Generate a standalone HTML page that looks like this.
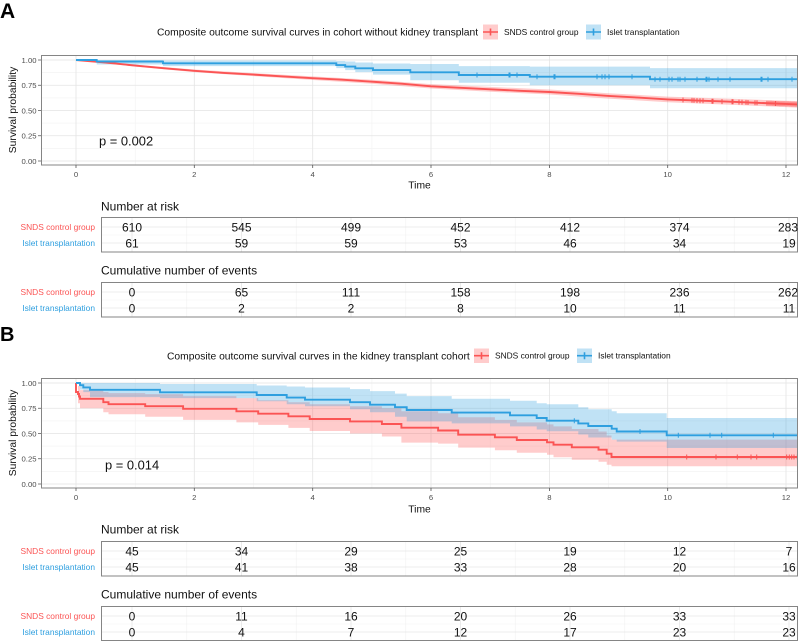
<!DOCTYPE html>
<html><head><meta charset="utf-8"><style>
html,body{margin:0;padding:0;background:#fff;}
svg{display:block;font-family:"Liberation Sans",Arial,sans-serif;}
</style></head><body>
<svg width="799" height="641" viewBox="0 0 799 641" xmlns="http://www.w3.org/2000/svg">
<defs>
<clipPath id="cA"><rect x="41" y="55" width="757" height="110"/></clipPath>
<clipPath id="cB"><rect x="41" y="378" width="757" height="110"/></clipPath>
</defs>

<!-- ================= PANEL A ================= -->
<text x="0" y="18" font-size="21" font-weight="bold">A</text>
<text x="157" y="35.6" font-size="10.3" fill="#111">Composite outcome survival curves in cohort without kidney transplant</text>
<!-- legend A -->
<rect x="483" y="24.5" width="15" height="15" fill="#ff5555" fill-opacity="0.3"/>
<path d="M483,32H498M490.5,28.5V35.5" stroke="#fb5454" stroke-width="1.6"/>
<text x="504" y="35" font-size="8.4" fill="#111">SNDS control group</text>
<rect x="586" y="24.5" width="15" height="15" fill="#2e9fdf" fill-opacity="0.3"/>
<path d="M586,32H601M593.5,28.5V35.5" stroke="#2e9fdf" stroke-width="1.6"/>
<text x="607" y="35" font-size="8.4" fill="#111">Islet transplantation</text>

<!-- grid A -->
<g stroke="#f2f2f2" stroke-width="0.6">
<path d="M135.2,55V165M253.5,55V165M371.9,55V165M490.2,55V165M608.5,55V165M726.9,55V165"/>
<path d="M41,72.6H798M41,97.9H798M41,123.1H798M41,148.4H798"/>
</g>
<g stroke="#e4e4e4" stroke-width="0.8">
<path d="M76,55V165M194.3,55V165M312.7,55V165M431,55V165M549.4,55V165M667.7,55V165M786,55V165"/>
<path d="M41,60H798M41,85.25H798M41,110.5H798M41,135.75H798M41,161H798"/>
</g>

<g clip-path="url(#cA)">
<polygon fill="#ff5555" fill-opacity="0.3" points="76,60 135.2,64.6 194.3,69.5 253.5,73.1 312.7,76.4 371.9,79.7 431,84.1 490.2,86.9 549.4,89.5 608.5,93.2 667.7,96.6 726.9,98.6 786,100.7 798,101.1 798,107.7 786,107.1 726.9,104.6 667.7,102.2 608.5,98.6 549.4,94.5 490.2,91.7 431,88.5 371.9,83.7 312.7,80 253.5,76.1 194.3,72.1 135.2,66.6 76,60"/>
<path fill="#2e9fdf" fill-opacity="0.3" d="M76,60 H163 V60.5 H336.3 V61 H345.2 V61.5 H355.3 V62.5 H373 V63.5 H410.3 V64 H458.8 V66.1 H529.8 V66.6 H650 V68.1 H798 V88.3 H650 V85.25 H529.8 V82.7 H458.8 V80.2 H410.3 V74.6 H373 V72.1 H355.3 V70.1 H345.2 V68.1 H336.3 V66.1 H163 V64.5 H96.7 V60 Z"/>
<polyline fill="none" stroke="#fb5454" stroke-width="1.9" points="76,60 105.6,62.5 135.2,65.6 164.8,68.3 194.3,70.8 223.9,72.9 253.5,74.6 283.1,76.4 312.7,78.2 342.3,79.7 371.9,81.7 401.4,83.7 431,86.3 460.6,87.8 490.2,89.3 519.8,90.8 549.4,92 579,93.8 608.5,95.9 638.1,97.6 667.7,99.4 697.3,100.6 726.9,101.6 756.5,102.8 786,103.9 798,104.4"/>
<path fill="none" stroke="#fb5454" stroke-width="1" d="M683,97.5v5M692,97.8v5M694,97.9v5M697,98.1v5M700,98.2v5M703,98.3v5M712,98.7v5M713,98.7v5M722,99.1v5M732,99.3v5M733,99.3v5M739,99.6v5M742,99.7v5M746,99.9v5M748,100v5M755,100.3v5M757,100.3v5M767,100.7v5M769,100.8v5M771,100.8v5M773,100.9v5M775,101v5M776,101v5M778,101.1v5M780,101.2v5M782,101.2v5M784,101.3v5M786,101.4v5M788,101.4v5M790,101.5v5M792,101.6v5M794,101.6v5M796,101.7v5"/>
<path fill="none" stroke="#2e9fdf" stroke-width="1.9" d="M76,60 H96.7 V61.6 H163 V63.3 H336.3 V65.05 H345.2 V66.6 H355.3 V68.3 H373 V70.1 H410.3 V72.3 H458.8 V75 H529.8 V76.7 H650 V79.2 H798"/>
<path fill="none" stroke="#2e9fdf" stroke-width="1" d="M477,72.5v5M509,72.5v5M510,72.5v5M517,72.5v5M537,74.2v5M554,74.2v5M555,74.2v5M597,74.2v5M602,74.2v5M605,74.2v5M609,74.2v5M632,74.2v5M655,76.7v5M660,76.7v5M669,76.7v5M672,76.7v5M678,76.7v5M680,76.7v5M685,76.7v5M697,76.7v5M706,76.7v5M707,76.7v5M709,76.7v5M718,76.7v5M730,76.7v5M761,76.7v5M762,76.7v5M768,76.7v5M792,76.7v5"/>
</g>
<rect x="41.5" y="55.5" width="756" height="109.5" fill="none" stroke="#858585" stroke-width="1"/>
<g stroke="#555" stroke-width="0.8">
<path d="M38,60H41M38,85.25H41M38,110.5H41M38,135.75H41M38,161H41"/>
<path d="M76,165V168M194.3,165V168M312.7,165V168M431,165V168M549.4,165V168M667.7,165V168M786,165V168"/>
</g>
<g font-size="7.7" fill="#4d4d4d" text-anchor="end">
<text x="36.5" y="62.8">1.00</text><text x="36.5" y="88">0.75</text><text x="36.5" y="113.3">0.50</text><text x="36.5" y="138.5">0.25</text><text x="36.5" y="163.8">0.00</text>
</g>
<g font-size="7.7" fill="#4d4d4d" text-anchor="middle">
<text x="76" y="176.8">0</text><text x="194.3" y="176.8">2</text><text x="312.7" y="176.8">4</text><text x="431" y="176.8">6</text><text x="549.4" y="176.8">8</text><text x="667.7" y="176.8">10</text><text x="786" y="176.8">12</text>
</g>
<text x="419.5" y="188.6" font-size="10.3" text-anchor="middle" fill="#111">Time</text>
<text transform="translate(15.8,110) rotate(-90)" font-size="10.3" text-anchor="middle" fill="#111">Survival probability</text>
<text x="99" y="145.5" font-size="12.9" fill="#111">p = 0.002</text>

<!-- Table A1 -->
<text x="101" y="210.3" font-size="12" fill="#111">Number at risk</text>
<g stroke="#f2f2f2" stroke-width="0.6"><path d="M186.75,217V252M296.25,217V252M405.75,217V252M515.25,217V252M624.75,217V252M734.25,217V252M101,235H798"/></g>
<g stroke="#e6e6e6" stroke-width="0.8"><path d="M132,217V252M241.5,217V252M351,217V252M460.5,217V252M570,217V252M679.5,217V252M789,217V252M101,227H798M101,243H798"/></g>
<rect x="101.5" y="217.5" width="696" height="34.5" fill="none" stroke="#858585" stroke-width="1"/>
<g font-size="8.4" text-anchor="end"><text x="95" y="230" fill="#fb5454">SNDS control group</text><text x="95" y="246" fill="#2e9fdf">Islet transplantation</text></g>
<g font-size="12" text-anchor="middle" fill="#111">
<text x="132" y="231.3">610</text><text x="241.5" y="231.3">545</text><text x="351" y="231.3">499</text><text x="460.5" y="231.3">452</text><text x="570" y="231.3">412</text><text x="679.5" y="231.3">374</text><text x="788" y="231.3">283</text>
<text x="132" y="247.3">61</text><text x="241.5" y="247.3">59</text><text x="351" y="247.3">59</text><text x="460.5" y="247.3">53</text><text x="570" y="247.3">46</text><text x="679.5" y="247.3">34</text><text x="789" y="247.3">19</text>
</g>

<!-- Table A2 -->
<text x="101" y="274.3" font-size="12" fill="#111">Cumulative number of events</text>
<g stroke="#f2f2f2" stroke-width="0.6"><path d="M186.75,282V317M296.25,282V317M405.75,282V317M515.25,282V317M624.75,282V317M734.25,282V317M101,300H798"/></g>
<g stroke="#e6e6e6" stroke-width="0.8"><path d="M132,282V317M241.5,282V317M351,282V317M460.5,282V317M570,282V317M679.5,282V317M789,282V317M101,292H798M101,308H798"/></g>
<rect x="101.5" y="282.5" width="696" height="34.5" fill="none" stroke="#858585" stroke-width="1"/>
<g font-size="8.4" text-anchor="end"><text x="95" y="295" fill="#fb5454">SNDS control group</text><text x="95" y="311" fill="#2e9fdf">Islet transplantation</text></g>
<g font-size="12" text-anchor="middle" fill="#111">
<text x="132" y="296.3">0</text><text x="241.5" y="296.3">65</text><text x="351" y="296.3">111</text><text x="460.5" y="296.3">158</text><text x="570" y="296.3">198</text><text x="679.5" y="296.3">236</text><text x="788" y="296.3">262</text>
<text x="132" y="312.3">0</text><text x="241.5" y="312.3">2</text><text x="351" y="312.3">2</text><text x="460.5" y="312.3">8</text><text x="570" y="312.3">10</text><text x="679.5" y="312.3">11</text><text x="789" y="312.3">11</text>
</g>

<!-- ================= PANEL B ================= -->
<text x="0" y="341" font-size="20" font-weight="bold">B</text>
<text x="167" y="359.5" font-size="10.3" fill="#111">Composite outcome survival curves in the kidney transplant cohort</text>
<rect x="474" y="348.5" width="15" height="14.5" fill="#ff5555" fill-opacity="0.3"/>
<path d="M474,355.7H489M481.5,352.2V359.2" stroke="#fb5454" stroke-width="1.6"/>
<text x="495" y="358.7" font-size="8.4" fill="#111">SNDS control group</text>
<rect x="577" y="348.5" width="15" height="14.5" fill="#2e9fdf" fill-opacity="0.3"/>
<path d="M577,355.7H592M584.5,352.2V359.2" stroke="#2e9fdf" stroke-width="1.6"/>
<text x="598" y="358.7" font-size="8.4" fill="#111">Islet transplantation</text>

<g stroke="#f2f2f2" stroke-width="0.6">
<path d="M135.2,378V488M253.5,378V488M371.9,378V488M490.2,378V488M608.5,378V488M726.9,378V488"/>
<path d="M41,395.6H798M41,420.9H798M41,446.1H798M41,471.4H798"/>
</g>
<g stroke="#e4e4e4" stroke-width="0.8">
<path d="M76,378V488M194.3,378V488M312.7,378V488M431,378V488M549.4,378V488M667.7,378V488M786,378V488"/>
<path d="M41,383H798M41,408.25H798M41,433.5H798M41,458.75H798M41,484H798"/>
</g>

<g clip-path="url(#cB)">
<path fill="#ff5555" fill-opacity="0.3" d="M76,383 H78 V386 H80 V390.1 H103.3 V392.1 H108.5 V393.1 H145.2 V394.1 H183.1 V396.1 H236.4 V398.15 H258.2 V400.2 H288.4 V402.2 H309.7 V404.2 H350 V406.2 H381.9 V408.25 H401.4 V411.3 H438.1 V413.3 H458.2 V417.3 H494.9 V419.9 H516.8 V422.4 H547 V424.4 H553.5 V426.4 H571.8 V429 H598.5 V431.5 H606.7 V435.5 H611.5 V439.6 H798 V466.3 H611.5 V464.8 H606.7 V461.8 H598.5 V459.8 H571.8 V457.2 H553.5 V454.7 H547 V452.7 H516.8 V450.2 H494.9 V447.6 H458.2 V443.6 H438.1 V442.6 H401.4 V436.5 H381.9 V433.5 H350 V431 H309.7 V427.9 H288.4 V424.9 H258.2 V422.4 H236.4 V419.9 H183.1 V416.8 H145.2 V414.3 H108.5 V412.3 H103.3 V408.25 H80 V403.2 H78 V383 Z"/>
<path fill="#2e9fdf" fill-opacity="0.3" d="M76,383 H160 V384 H256.7 V385.5 H286.7 V386.5 H305 V387.5 H350 V389.1 H370 V391.1 H395 V393.6 H406.7 V396.1 H451.7 V398.7 H510 V400.7 H536.7 V403.2 H546.7 V404.2 H578.3 V407.2 H588.3 V409.3 H611.7 V411.3 H616.7 V413.3 H666.7 V418 H798 V448 H666.7 V441.6 H616.7 V439.6 H611.7 V437.5 H588.3 V434.5 H578.3 V431.3 H546.7 V429.5 H536.7 V426.4 H510 V423.4 H451.7 V421.4 H406.7 V416.8 H395 V412.3 H370 V409.3 H350 V406.2 H305 V404.2 H286.7 V401.2 H256.7 V398.15 H160 V397.1 H90 V392.1 H83.3 V389.6 H80 V383 Z"/>
<path fill="none" stroke="#fb5454" stroke-width="1.9" d="M76,383 V392 H78 V394 H79 V396.5 H80 V398.8 H103.3 V402.2 H108.5 V404.2 H145.2 V406.2 H183.1 V408.8 H236.4 V411.3 H258.2 V413.7 H288.4 V416.3 H309.7 V419 H350 V421.4 H381.9 V424 H401.4 V427.7 H438.1 V430.5 H458.2 V434.7 H494.9 V437.3 H516.8 V440 H547 V442.3 H553.5 V444.7 H571.8 V447.3 H598.5 V449.7 H606.7 V453.7 H611.5 V457 H798"/>
<path fill="none" stroke="#fb5454" stroke-width="1" d="M686.7,454.5v5M716,454.5v5M737.3,454.5v5M751,454.5v5M756.7,454.5v5M786.7,454.5v5M789.3,454.5v5M791.7,454.5v5M794,454.5v5M797.3,454.5v5"/>
<path fill="none" stroke="#2e9fdf" stroke-width="1.9" d="M76,383 H80 V385.2 H83.3 V387.4 H90 V389.8 H160 V392.3 H256.7 V395 H286.7 V397.6 H305 V399.7 H350 V402.2 H370 V404.7 H395 V407.2 H406.7 V410 H451.7 V412.6 H510 V415.3 H536.7 V418 H546.7 V420.7 H578.3 V423.4 H588.3 V426 H611.7 V428.7 H616.7 V431.5 H666.7 V435.3 H798"/>
<path fill="none" stroke="#2e9fdf" stroke-width="1" d="M574.3,418.2v5M640,429v5M678.3,432.8v5M710,432.8v5M721.7,432.8v5M773.3,432.8v5"/>
</g>
<rect x="41.5" y="378.5" width="756" height="109.5" fill="none" stroke="#858585" stroke-width="1"/>
<g stroke="#555" stroke-width="0.8">
<path d="M38,383H41M38,408.25H41M38,433.5H41M38,458.75H41M38,484H41"/>
<path d="M76,488V491M194.3,488V491M312.7,488V491M431,488V491M549.4,488V491M667.7,488V491M786,488V491"/>
</g>
<g font-size="7.7" fill="#4d4d4d" text-anchor="end">
<text x="36.5" y="385.8">1.00</text><text x="36.5" y="411">0.75</text><text x="36.5" y="436.3">0.50</text><text x="36.5" y="461.5">0.25</text><text x="36.5" y="486.8">0.00</text>
</g>
<g font-size="7.7" fill="#4d4d4d" text-anchor="middle">
<text x="76" y="499.8">0</text><text x="194.3" y="499.8">2</text><text x="312.7" y="499.8">4</text><text x="431" y="499.8">6</text><text x="549.4" y="499.8">8</text><text x="667.7" y="499.8">10</text><text x="786" y="499.8">12</text>
</g>
<text x="419.5" y="512.6" font-size="10.3" text-anchor="middle" fill="#111">Time</text>
<text transform="translate(15.8,433) rotate(-90)" font-size="10.3" text-anchor="middle" fill="#111">Survival probability</text>
<text x="105" y="469.5" font-size="12.9" fill="#111">p = 0.014</text>

<!-- Table B1 -->
<text x="101" y="533.3" font-size="12" fill="#111">Number at risk</text>
<g stroke="#f2f2f2" stroke-width="0.6"><path d="M186.75,541V576M296.25,541V576M405.75,541V576M515.25,541V576M624.75,541V576M734.25,541V576M101,559H798"/></g>
<g stroke="#e6e6e6" stroke-width="0.8"><path d="M132,541V576M241.5,541V576M351,541V576M460.5,541V576M570,541V576M679.5,541V576M789,541V576M101,551H798M101,567H798"/></g>
<rect x="101.5" y="541.5" width="696" height="34.5" fill="none" stroke="#858585" stroke-width="1"/>
<g font-size="8.4" text-anchor="end"><text x="95" y="554" fill="#fb5454">SNDS control group</text><text x="95" y="570" fill="#2e9fdf">Islet transplantation</text></g>
<g font-size="12" text-anchor="middle" fill="#111">
<text x="132" y="555.3">45</text><text x="241.5" y="555.3">34</text><text x="351" y="555.3">29</text><text x="460.5" y="555.3">25</text><text x="570" y="555.3">19</text><text x="679.5" y="555.3">12</text><text x="789" y="555.3">7</text>
<text x="132" y="571.3">45</text><text x="241.5" y="571.3">41</text><text x="351" y="571.3">38</text><text x="460.5" y="571.3">33</text><text x="570" y="571.3">28</text><text x="679.5" y="571.3">20</text><text x="789" y="571.3">16</text>
</g>

<!-- Table B2 -->
<text x="101" y="598.3" font-size="12" fill="#111">Cumulative number of events</text>
<g stroke="#f2f2f2" stroke-width="0.6"><path d="M186.75,606V641M296.25,606V641M405.75,606V641M515.25,606V641M624.75,606V641M734.25,606V641M101,624H798"/></g>
<g stroke="#e6e6e6" stroke-width="0.8"><path d="M132,606V641M241.5,606V641M351,606V641M460.5,606V641M570,606V641M679.5,606V641M789,606V641M101,616H798M101,632H798"/></g>
<rect x="101.5" y="606.5" width="696" height="34" fill="none" stroke="#858585" stroke-width="1"/>
<g font-size="8.4" text-anchor="end"><text x="95" y="619" fill="#fb5454">SNDS control group</text><text x="95" y="635" fill="#2e9fdf">Islet transplantation</text></g>
<g font-size="12" text-anchor="middle" fill="#111">
<text x="132" y="620.3">0</text><text x="241.5" y="620.3">11</text><text x="351" y="620.3">16</text><text x="460.5" y="620.3">20</text><text x="570" y="620.3">26</text><text x="679.5" y="620.3">33</text><text x="789" y="620.3">33</text>
<text x="132" y="636.3">0</text><text x="241.5" y="636.3">4</text><text x="351" y="636.3">7</text><text x="460.5" y="636.3">12</text><text x="570" y="636.3">17</text><text x="679.5" y="636.3">23</text><text x="789" y="636.3">23</text>
</g>
</svg>
</body></html>
